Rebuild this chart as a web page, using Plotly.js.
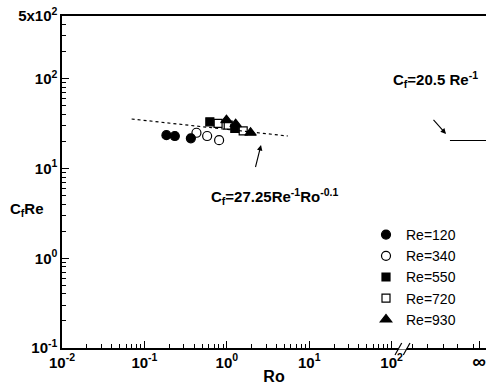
<!DOCTYPE html>
<html>
<head>
<meta charset="utf-8">
<script src="https://cdn.plot.ly/plotly-3.0.1.min.js"></script>
<style>
html,body{margin:0;padding:0;overflow:hidden;background:#fff;}
#chart{width:486px;height:385px;}
</style>
</head>
<body>
<div id="chart"></div>
<script>
// ---- data ----
const ro120 = [0.185, 0.234, 0.366];
const cf120 = [23.5, 23.0, 21.7];
const ro340 = [0.428, 0.577, 0.806];
const cf340 = [25.0, 23.0, 20.7];
const ro550 = [0.622, 1.25];
const cf550 = [33.1, 28.0];
const ro720 = [0.783, 1.04, 1.58];
const cf720 = [31.8, 30.4, 26.3];
const ro930 = [0.99, 1.28, 1.94];
const cf930 = [34.6, 31.2, 25.0];
// correlation C_f Re = 27.25 Ro^-0.1 (dotted line end points)
const fitRo = [0.07, 5.5];
const fitCfRe = [35.6, 23.0];
// Ro -> infinity limit, C_f Re = 20.5 (drawn right of the axis break)
const infRo = [510, 20000];
const infCfRe = [20.5, 20.5];
// tick labels
const xMajorVals = [0.01, 0.1, 1, 10, 100, 1150];
const xMajorText = ['10<sup>-2</sup>', '10<sup>-1</sup>', '10<sup>0</sup>', '10<sup>1</sup>', '10<sup>2</sup>',
                    '<span style="font-size:19px">\u221E</span>'];
const xBreakTicks = [181, 276, 420, 638, 971];
const yMajorVals = [0.1, 1, 10, 100, 500];
const yMajorText = ['10<sup>-1</sup>', '10<sup>0</sup>', '10<sup>1</sup>', '10<sup>2</sup>', '5x10<sup>2</sup>'];

// minor ticks 2..9 per decade
function minors(k0, k1, extra) {
  const out = [];
  for (let k = k0; k <= k1; k++) for (let m = 2; m <= 9; m++) out.push(m * Math.pow(10, k));
  return out.concat(extra || []);
}
const xMinor = minors(-2, 1, xBreakTicks);
const yMinor = minors(-1, 1, [200, 300, 400]);

const FONT = 'Liberation Sans, Arial, sans-serif';
const mk = (sym, size) => ({symbol: sym, size: size, color: '#000', line: {color: '#000', width: 1.2}});

const traces = [
  {x: fitRo, y: fitCfRe, mode: 'lines', line: {color: '#000', width: 1.2, dash: 'dot'}, showlegend: false, hoverinfo: 'skip'},
  {x: infRo, y: infCfRe, mode: 'lines', line: {color: '#000', width: 1.2}, showlegend: false, hoverinfo: 'skip'},
  {x: ro120, y: cf120, mode: 'markers', name: 'Re=120', marker: mk('circle', 9)},
  {x: ro340, y: cf340, mode: 'markers', name: 'Re=340', marker: mk('circle-open', 9)},
  {x: ro550, y: cf550, mode: 'markers', name: 'Re=550', marker: mk('square', 8)},
  {x: ro720, y: cf720, mode: 'markers', name: 'Re=720', marker: mk('square-open', 8)},
  {x: ro930, y: cf930, mode: 'markers', name: 'Re=930', marker: mk('triangle-up', 10)}
];

const L = 62, W = 424, T = 16, H = 332;
const px = v => (v - L) / W;           // pixel -> paper x
const py = v => (T + H - v) / H;       // pixel -> paper y

const layout = {
  width: 486, height: 385,
  margin: {l: L, r: 0, t: T, b: 385 - T - H},
  paper_bgcolor: '#fff', plot_bgcolor: '#fff',
  font: {family: FONT, color: '#000', size: 15},
  showlegend: true,
  legend: {x: px(366), y: py(219), xanchor: 'left', yanchor: 'top', bgcolor: 'rgba(0,0,0,0)',
           font: {family: FONT, size: 14, color: '#000'}},
  xaxis: {
    type: 'log', range: [-2, 3.145], showgrid: false, zeroline: false,
    showline: true, linecolor: '#000', linewidth: 1.6, mirror: true,
    ticks: 'inside', ticklen: 7, tickwidth: 1, tickcolor: '#000',
    tickmode: 'array', tickvals: xMajorVals, ticktext: xMajorText, ticklabeloverflow: 'allow',
    tickfont: {family: FONT, size: 15, weight: 'bold'},
    minor: {tickmode: 'array', tickvals: xMinor, ticks: 'inside', ticklen: 4, tickwidth: 1, tickcolor: '#000', showgrid: false},
    title: {text: '<b>Ro</b>', font: {family: FONT, size: 16}, standoff: 2}
  },
  yaxis: {
    type: 'log', range: [-1, Math.log10(500)], showgrid: false, zeroline: false,
    showline: true, linecolor: '#000', linewidth: 1.6, mirror: false,
    ticks: 'inside', ticklen: 7, tickwidth: 1, tickcolor: '#000',
    tickmode: 'array', tickvals: yMajorVals, ticktext: yMajorText,
    tickfont: {family: FONT, size: 15, weight: 'bold'},
    minor: {tickmode: 'array', tickvals: yMinor, ticks: 'inside', ticklen: 4, tickwidth: 1, tickcolor: '#000', showgrid: false}
  },
  annotations: [
    {xref: 'paper', yref: 'paper', x: px(27), y: py(210), xanchor: 'center', yanchor: 'middle',
     text: '<b>C<sub>f</sub>Re</b>', showarrow: false, font: {family: FONT, size: 15}},
    {xref: 'paper', yref: 'paper', x: px(274.5), y: py(196), xanchor: 'center', yanchor: 'middle',
     text: '<b>C<sub>f</sub>=27.25Re<sup>-1</sup>Ro<sup>-0.1</sup></b>', showarrow: false, font: {family: FONT, size: 15}},
    {xref: 'paper', yref: 'paper', x: px(261), y: py(145), ax: -8, ay: 32, text: ' ', showarrow: true,
     arrowhead: 2, arrowsize: 1, arrowwidth: 1.1, arrowcolor: '#000', standoff: 0, startstandoff: 0},
    {xref: 'paper', yref: 'paper', x: px(435), y: py(80), xanchor: 'center', yanchor: 'middle',
     text: '<b>C<sub>f</sub>=20.5 Re<sup>-1</sup></b>', showarrow: false, font: {family: FONT, size: 15}},
    {xref: 'paper', yref: 'paper', x: px(446), y: py(134), ax: -16, ay: -18, text: ' ', showarrow: true,
     arrowhead: 2, arrowsize: 1, arrowwidth: 1.1, arrowcolor: '#000', standoff: 0, startstandoff: 0}
  ],
  shapes: [
    {type: 'line', xref: 'paper', yref: 'paper', x0: px(398.5), x1: px(406.5), y0: py(348), y1: py(348),
     line: {color: '#fff', width: 3}, layer: 'above'},
    {type: 'line', xref: 'paper', yref: 'paper', x0: px(395), x1: px(401.7), y0: py(355), y1: py(343),
     line: {color: '#000', width: 1.2}, layer: 'above'},
    {type: 'line', xref: 'paper', yref: 'paper', x0: px(403.3), x1: px(410), y0: py(355), y1: py(343),
     line: {color: '#000', width: 1.2}, layer: 'above'}
  ]
};

Plotly.newPlot('chart', traces, layout, {displayModeBar: false, staticPlot: true});
</script>
</body>
</html>
